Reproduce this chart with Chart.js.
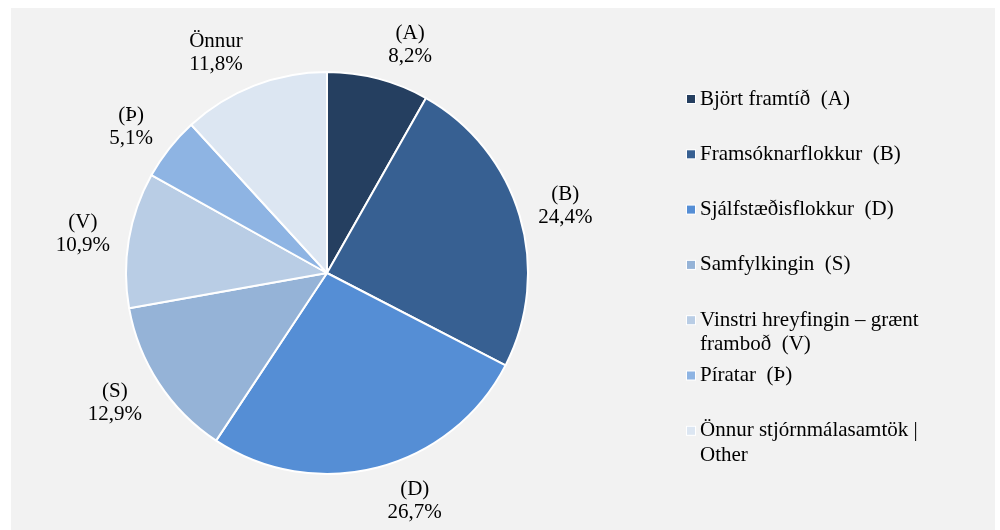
<!DOCTYPE html>
<html>
<head>
<meta charset="utf-8">
<script src="https://cdn.jsdelivr.net/npm/chart.js@4.4.1/dist/chart.umd.min.js"></script>
<style>
  html, body { margin: 0; padding: 0; background: #fff; }
  #wrap { width: 1000px; height: 530px; }
</style>
</head>
<body>
<div id="wrap"><canvas id="chart" width="1000" height="530"></canvas></div>
<script>
// data
const parties = [
  'Björt framtíð  (A)',
  'Framsóknarflokkur  (B)',
  'Sjálfstæðisflokkur  (D)',
  'Samfylkingin  (S)',
  'Vinstri hreyfingin – grænt framboð  (V)',
  'Píratar  (Þ)',
  'Önnur stjórnmálasamtök | Other'
];
const codes = ['(A)', '(B)', '(D)', '(S)', '(V)', '(Þ)', 'Önnur'];
const shares = [8.2, 24.4, 26.7, 12.9, 10.9, 5.1, 11.8];
const colors = ['#253f60', '#376092', '#558ed5', '#95b3d7', '#b9cde5', '#8eb4e3', '#dce6f2'];

const FONT = '"Liberation Serif", "Times New Roman", serif';

// grey panel behind everything
const panel = {
  id: 'panel',
  beforeDraw(chart) {
    const ctx = chart.ctx;
    ctx.save();
    ctx.fillStyle = '#f2f2f2';
    ctx.fillRect(11, 8, 984, 522);
    ctx.restore();
  }
};

// labels outside each slice: code + value with decimal comma
const sliceLabels = {
  id: 'sliceLabels',
  afterDatasetsDraw(chart) {
    const ctx = chart.ctx;
    const meta = chart.getDatasetMeta(0);
    ctx.save();
    ctx.font = '21px ' + FONT;
    ctx.fillStyle = '#000';
    ctx.textAlign = 'center';
    ctx.textBaseline = 'middle';
    const lh = 23;
    meta.data.forEach((arc, i) => {
      const { x, y, startAngle, endAngle, outerRadius } = arc.getProps(['x', 'y', 'startAngle', 'endAngle', 'outerRadius'], true);
      const mid = (startAngle + endAngle) / 2;
      const dx = Math.cos(mid), dy = Math.sin(mid);
      const lines = [codes[i], shares[i].toFixed(1).replace('.', ',') + '%'];
      const w = Math.max(...lines.map(t => ctx.measureText(t).width));
      const h = lh * lines.length;
      const d = outerRadius + 12;
      const cx = x + dx * d + Math.sign(dx) * (w / 2 + 7);
      const cy = y + dy * d + dy * h / 2;
      lines.forEach((t, k) => {
        ctx.fillText(t, cx, cy + (k - (lines.length - 1) / 2) * lh);
      });
    });
    ctx.restore();
  }
};

// legend on the right, wrapped like the original
const sideLegend = {
  id: 'sideLegend',
  afterDraw(chart) {
    const ctx = chart.ctx;
    ctx.save();
    ctx.font = '21px ' + FONT;
    ctx.textBaseline = 'middle';
    const x0 = 687, tx = 700, y0 = 99, step = 55.3, lh = 24.5, maxW = 245;
    parties.forEach((name, i) => {
      const words = name.split(' ');
      const lines = [];
      let cur = '';
      words.forEach(wd => {
        const test = cur === '' ? wd : cur + ' ' + wd;
        if (cur !== '' && wd !== '' && ctx.measureText(test).width > maxW) {
          lines.push(cur);
          cur = wd;
        } else {
          cur = test;
        }
      });
      lines.push(cur);
      const y = y0 + i * step;
      ctx.fillStyle = '#fff';
      ctx.fillRect(x0 - 1, y - 5, 10, 10);
      ctx.fillStyle = colors[i];
      ctx.fillRect(x0, y - 4, 8, 8);
      ctx.fillStyle = '#000';
      lines.forEach((t, k) => ctx.fillText(t, tx, y + k * lh));
    });
    ctx.restore();
  }
};

new Chart(document.getElementById('chart'), {
  type: 'pie',
  data: {
    labels: parties,
    datasets: [{
      data: shares,
      backgroundColor: colors,
      borderColor: '#ffffff',
      borderWidth: 2
    }]
  },
  options: {
    responsive: false,
    animation: false,
    layout: { padding: { left: 125, right: 471, top: 71, bottom: 55 } },
    plugins: {
      legend: { display: false },
      tooltip: { enabled: false }
    }
  },
  plugins: [panel, sliceLabels, sideLegend]
});
</script>
</body>
</html>
